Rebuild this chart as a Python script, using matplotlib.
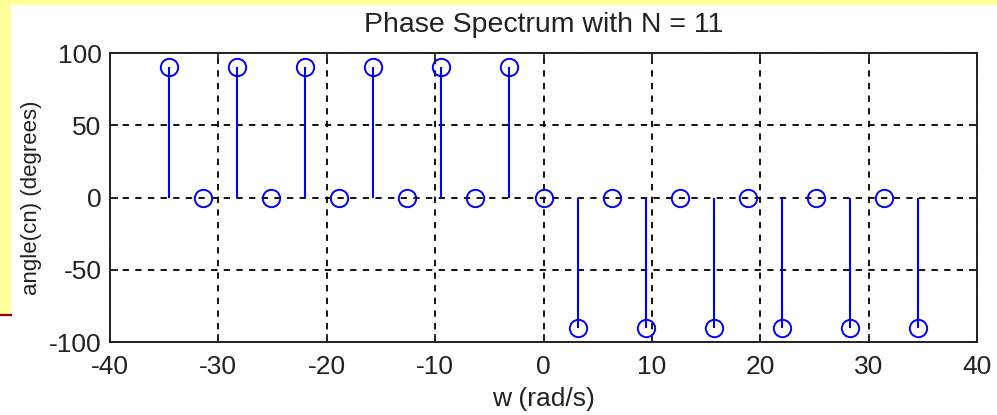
import matplotlib
matplotlib.use("Agg")
import matplotlib.pyplot as plt
from matplotlib.patches import Rectangle
from matplotlib.lines import Line2D

# Harmonic frequencies (rad/s) and phase of each Fourier coefficient (degrees)
w = [-34.56, -31.42, -28.27, -25.13, -21.99, -18.85, -15.71, -12.57, -9.42, -6.28, -3.14,
     0.0, 3.14, 6.28, 9.42, 12.57, 15.71, 18.85, 21.99, 25.13, 28.27, 31.42, 34.56]
phase = [90, 0, 90, 0, 90, 0, 90, 0, 90, 0, 90,
         0, -90, 0, -90, 0, -90, 0, -90, 0, -90, 0, -90]

xticks = [-40, -30, -20, -10, 0, 10, 20, 30, 40]
yticks = [-100, -50, 0, 50, 100]

plt.rcParams['font.family'] = ['Liberation Sans', 'DejaVu Sans']

fig = plt.figure(figsize=(9.97, 4.15), dpi=100)
fig.patch.set_facecolor('white')

W, H = 997, 415
# slide-style frame: yellow band on top, yellow strip at left with a dark red rule
fig.add_artist(Rectangle((0, 1 - 5 / H), 1, 5 / H, transform=fig.transFigure,
                         facecolor='#ffff99', edgecolor='none', zorder=0))
fig.add_artist(Rectangle((0, 1 - 314 / H), 11 / W, 314 / H, transform=fig.transFigure,
                         facecolor='#ffff99', edgecolor='none', zorder=0))
fig.add_artist(Line2D([0, 11 / W], [1 - 315 / H, 1 - 315 / H], transform=fig.transFigure,
                      color='#990000', lw=1.6, zorder=1))

ax = fig.add_axes([110 / W, 1 - 342 / H, 867 / W, 289 / H])

markerline, stemlines, baseline = ax.stem(w, phase, basefmt=' ')
plt.setp(stemlines, color='#0000ff', linewidth=1.5)
plt.setp(markerline, color='#0000ff', marker='o', markersize=12.5,
         markerfacecolor='none', markeredgewidth=1.4)

ax.set_xlim(-40, 40)
ax.set_ylim(-100, 100)
ax.set_xticks(xticks)
ax.set_yticks(yticks)
ax.set_xticklabels([str(t) for t in xticks])
ax.set_yticklabels([str(t) for t in yticks])

ax.grid(True, color='black', linestyle=(0, (3.5, 3.5)), linewidth=1.3)
ax.set_axisbelow(True)
for s in ax.spines.values():
    s.set_linewidth(1.4)
    s.set_color('#222222')

ax.tick_params(axis='both', direction='in', length=6, width=1.3, labelsize=19,
               colors='#222222', top=True, right=True)
ax.tick_params(axis='y', pad=6)
ax.tick_params(axis='x', pad=9)

ax.set_title('Phase Spectrum with N = 11', fontsize=20.5, color='#222222', pad=15)
ax.set_xlabel('w (rad/s)', fontsize=19, color='#222222', labelpad=6)
ax.set_ylabel('angle(cn) (degrees)', fontsize=16, color='#222222', labelpad=5)

fig.savefig('out.png', dpi=100, facecolor=fig.get_facecolor())
